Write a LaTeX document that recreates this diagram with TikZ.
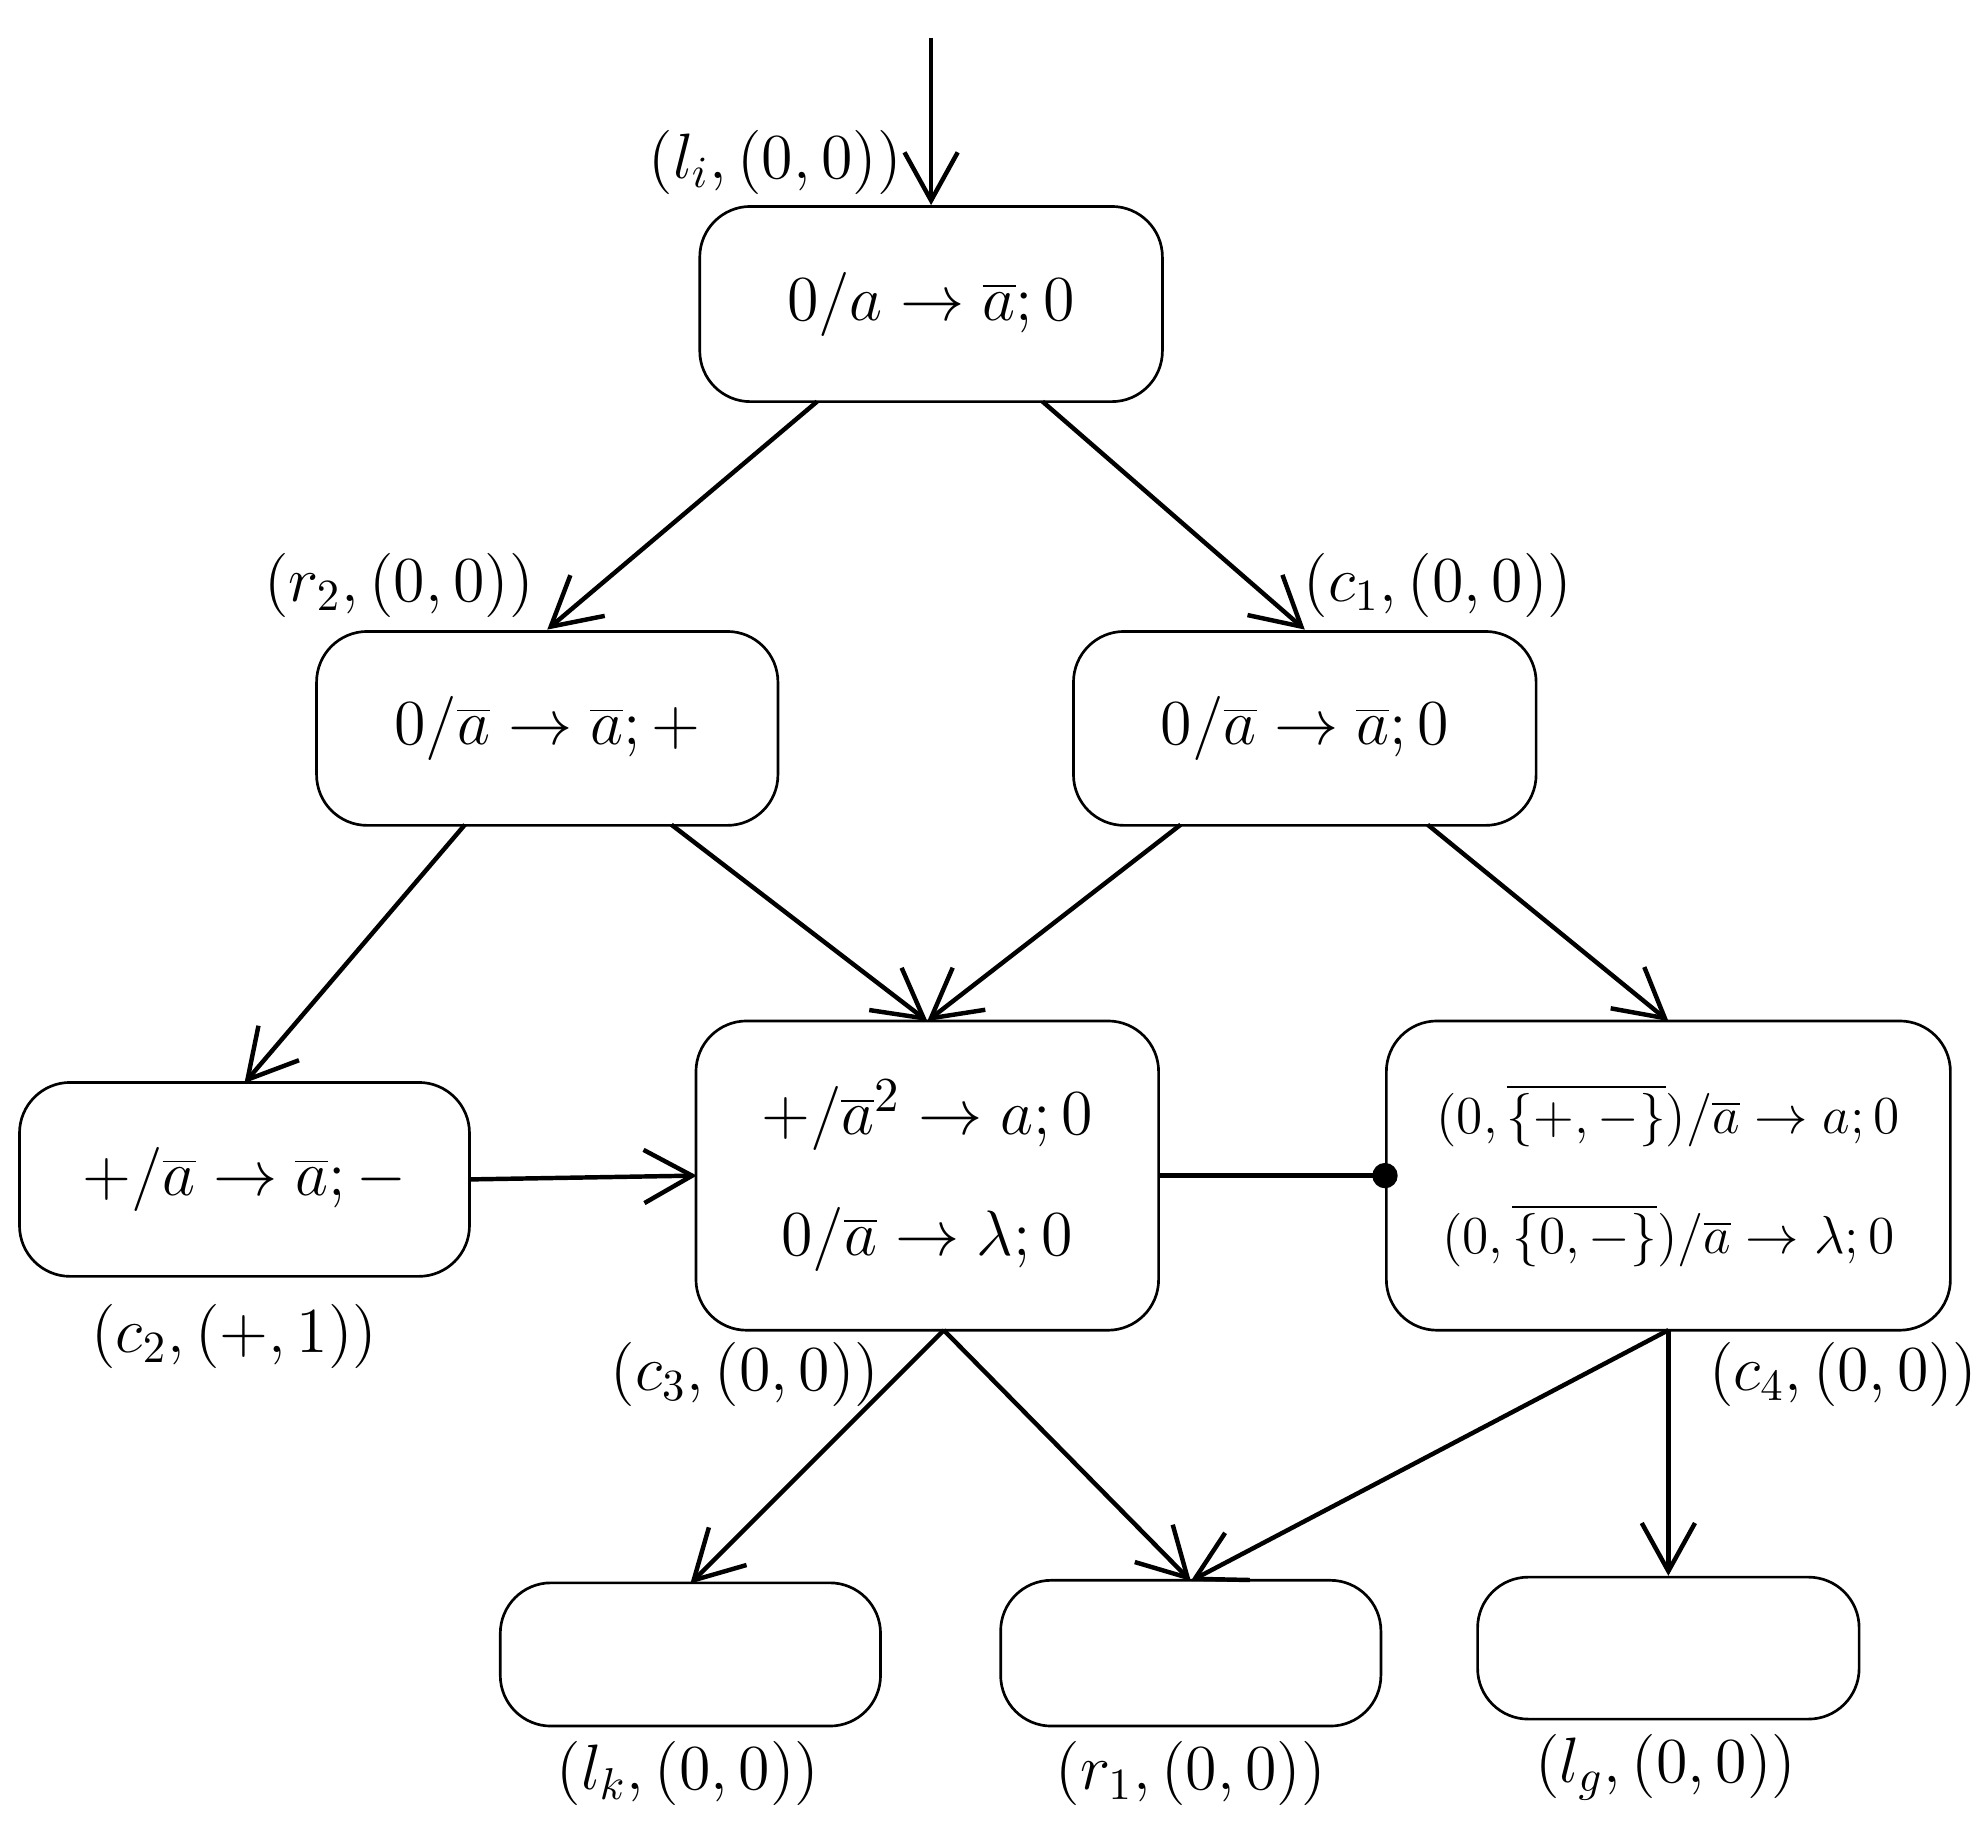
\documentclass[tikz,border=0pt]{standalone}
\usetikzlibrary{arrows.meta}
\begin{document}
\begin{tikzpicture}[x=0.01cm,y=-0.01cm,
  bx/.style={draw,line width=0.6pt,rounded corners=0.4cm,inner sep=0pt},
  lab/.style={font=\fontsize{14}{17}\selectfont},
  ar/.style={line width=1pt,-{Straight Barb[length=0.38cm,width=0.42cm,line width=1pt]}},
  every node/.style={font=\fontsize{15}{21}\selectfont}]
\useasboundingbox (0,0) rectangle (1563,1445);
\node[bx,minimum width=3.65cm,minimum height=1.54cm] (b0) at (735,240) {$0/a\to\overline{a};0$};
\node[bx,minimum width=3.64cm,minimum height=1.53cm] (b1) at (432,575) {$0/\overline{a}\to\overline{a};+$};
\node[bx,minimum width=3.65cm,minimum height=1.53cm] (b2) at (1030,575) {$0/\overline{a}\to\overline{a};0$};
\node[bx,minimum width=3.55cm,minimum height=1.53cm] (b3) at (193,931) {$+/\overline{a}\to\overline{a};-$};
\node[bx,minimum width=3.65cm,minimum height=2.44cm,align=center] (b4) at (732,928) {$+/\overline{a}^2\to a;0$\\[6pt]$0/\overline{a}\to\lambda;0$};
\node[bx,minimum width=4.45cm,minimum height=2.44cm,align=center,font=\fontsize{13}{19}\selectfont] (b5) at (1317,928) {$(0,\overline{\{+,-\}})/\overline{a}\to a;0$\\[8pt]$(0,\overline{\{0,-\}})/\overline{a}\to \lambda;0$};
\node[bx,minimum width=3.0cm,minimum height=1.13cm] (b6) at (545,1306) {};
\node[bx,minimum width=3.0cm,minimum height=1.15cm] (b7) at (940,1305) {};
\node[bx,minimum width=3.01cm,minimum height=1.12cm] (b8) at (1317,1301) {};
\coordinate (s) at (735,30);
\draw[ar] (s) -- (b0.north);
\draw[ar] (645,317) -- (432,497);
\draw[ar] (823,317) -- (1030,497);
\draw[ar] (367,651) -- (193,855);
\draw[ar] (530,651) -- (732,806);
\draw[ar] (932,651) -- (732,806);
\draw[ar] (1127,651) -- (1317,806);
\draw[ar] (b3.east) -- (550,928);
\draw[line width=1pt] (b4.east) -- (b5.west);
\fill (b5.west) circle (0.1cm);
\draw[ar] (745,1050) -- (545,1250);
\draw[ar] (745,1050) -- (940,1248);
\draw[ar] (1317,1050) -- (940,1248);
\draw[ar] (1317,1050) -- (b8.north);
\node[lab] (t0) at (612,128) {$(l_i,(0,0))$};
\node[lab] (t1) at (315,462) {$(r_2,(0,0))$};
\node[lab] (t2) at (1135,462) {$(c_1,(0,0))$};
\node[lab] (t3) at (185,1055) {$(c_2,(+,1))$};
\node[lab] (t4) at (588,1085) {$(c_3,(0,0))$};
\node[lab] (t5) at (1455,1085) {$(c_4,(0,0))$};
\node[lab] (t6) at (543,1400) {$(l_k,(0,0))$};
\node[lab] (t7) at (940,1400) {$(r_1,(0,0))$};
\node[lab] (t8) at (1315,1395) {$(l_g,(0,0))$};
\end{tikzpicture}
\end{document}
